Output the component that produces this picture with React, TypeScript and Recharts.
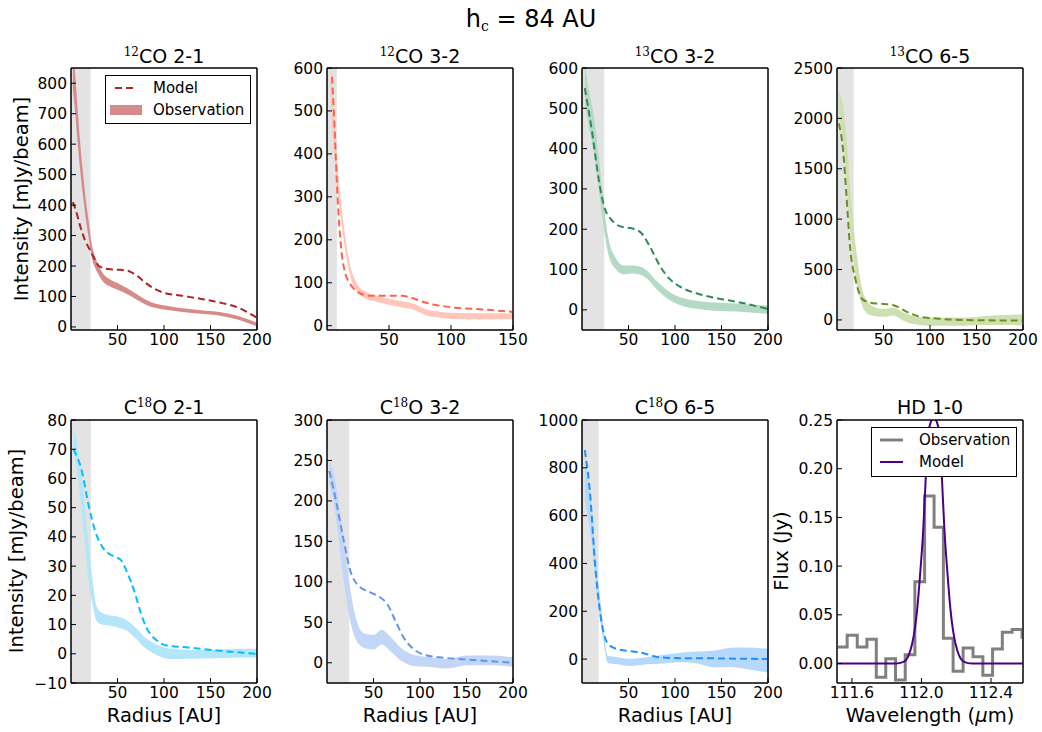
import React from "react";
import { ComposedChart, Area, Line, XAxis, YAxis, ReferenceArea } from "recharts";

// 12CO 2-1
const co12_21_obsR = [2, 4, 7, 10, 13, 16, 19, 22, 26, 30, 35, 40, 50, 60, 70, 80, 90, 100, 120, 140, 160, 180, 200];
const co12_21_obsI = [850, 785, 665, 555, 465, 385, 320, 255, 212, 185, 160, 148, 133, 118, 100, 82, 70, 64, 55, 49, 43, 30, 8];
const co12_21_obsE = [70, 65, 55, 45, 38, 32, 27, 22, 18, 15, 13, 12, 11, 10, 9, 8, 7, 7, 6, 6, 6, 6, 6];
const co12_21_modR = [2, 5, 10, 15, 20, 25, 30, 40, 50, 60, 70, 80, 90, 100, 120, 140, 160, 180, 200];
const co12_21_modI = [410, 385, 330, 285, 255, 225, 200, 190, 188, 185, 170, 145, 125, 112, 102, 92, 80, 63, 30];

// 12CO 3-2
const co12_32_obsR = [3, 5, 8, 11, 15, 19, 24, 32, 40, 51, 60, 68, 75, 81, 90, 98, 114, 130, 150];
const co12_32_obsI = [569, 470, 360, 275, 185, 125, 90, 70, 63, 55, 50, 46, 38, 30, 26, 23, 22, 22, 22];
const co12_32_obsE = [45, 38, 30, 22, 16, 12, 9, 8, 7, 7, 7, 7, 7, 7, 7, 7, 7, 7, 7];
const co12_32_modR = [4, 5.5, 7, 8.5, 10, 12, 15, 18, 21, 27, 33, 40, 51, 60, 68, 76, 84, 95, 103, 125, 150];
const co12_32_modI = [580, 500, 400, 300, 230, 165, 120, 100, 88, 75, 70, 70, 70, 70, 65, 57, 50, 45, 42, 38, 32];

// 13CO 3-2
const co13_32_obsR = [3, 7, 12.5, 18, 23, 28.5, 36, 45, 52, 59, 65, 70, 80, 95, 112, 125, 141, 166, 200];
const co13_32_obsI = [567, 505, 439, 339, 240, 157, 116, 99, 100, 99, 95, 87, 62, 33, 17, 12, 8, 6, 0];
const co13_32_obsE = [45, 45, 45, 40, 30, 20, 14, 11, 10, 10, 10, 10, 10, 10, 10, 10, 10, 10, 10];
const co13_32_modR = [3, 11, 18, 25, 30, 37.5, 45, 52, 60, 64, 73, 84, 95, 105, 123, 145, 173, 200];
const co13_32_modI = [550, 439, 323, 248, 228, 211, 205, 203, 197, 190, 157, 108, 75, 58, 41, 29, 17, 2];

// 13CO 6-5
const co13_65_obsR = [2, 6.5, 10, 15.4, 21, 26, 33, 40, 46, 53, 60, 66, 71, 82, 100, 135, 160, 180, 200];
const co13_65_obsI = [2150, 1950, 1600, 1000, 520, 260, 120, 85, 72, 72, 83, 65, 35, 0, -17, -17, -5, 0, 0];
const co13_65_obsE = [120, 180, 220, 200, 150, 90, 60, 45, 40, 40, 40, 40, 40, 40, 40, 40, 45, 50, 55];
const co13_65_modR = [2, 6.5, 10, 14, 20, 28, 35, 39, 50, 60, 65, 74.5, 89, 103, 135, 200];
const co13_65_modI = [1950, 1690, 1258, 728, 397, 199, 175, 166, 158, 149, 130, 83, 33, 17, 0, -7];

// C18O 2-1
const c18o_21_obsR = [3, 8, 13, 18.6, 24, 27.6, 33, 40, 49, 60, 70.6, 81, 92, 106, 128, 157, 182, 200];
const c18o_21_obsI = [73.5, 64, 50, 32, 19.4, 13.7, 12, 11.5, 11, 9.7, 6.8, 3.4, 1.4, 0, -0.2, 0, 0.2, 0.2];
const c18o_21_obsE = [4, 5, 6, 6, 4, 2.5, 2, 1.8, 1.8, 1.8, 1.8, 1.8, 1.8, 1.8, 1.5, 1.5, 1.5, 1.5];
const c18o_21_modR = [2.5, 11.5, 18.6, 26, 35, 42, 49, 54, 58, 64, 69, 75, 81, 92, 103, 121, 157, 200];
const c18o_21_modI = [70, 62.7, 51.3, 42, 36, 34, 33, 32, 29.6, 25, 20.5, 14, 9, 4.6, 2.8, 2.3, 1.1, 0];

// C18O 3-2
const c18o_32_obsR = [2.5, 9, 16, 23, 30.5, 39.4, 50, 59, 68, 79, 93, 111, 129, 150.5, 179, 200];
const c18o_32_obsI = [237, 204, 143, 85, 44, 27.6, 25.5, 31.7, 23.5, 11, 2.9, 0.8, -1.2, 2.9, 2.9, 0.8];
const c18o_32_obsE = [15, 20, 25, 22, 14, 9, 9, 9, 9, 8, 7, 6, 6, 6, 6, 6];
const c18o_32_modR = [2.5, 9, 18, 25, 34, 46.6, 57, 64.5, 73.5, 82, 93, 107.5, 129, 165, 200];
const c18o_32_modI = [237, 204, 151, 114, 95, 87, 81, 73, 52, 32, 17, 9, 5.8, 2.9, 0];

// C18O 6-5
const c18o_65_obsR = [3, 9, 16, 23, 27.6, 37.6, 52, 70, 88, 106, 124, 141.6, 159.5, 177, 200];
const c18o_65_obsI = [762, 608, 329, 105, 0, -7, -14, -7, 0, 7, 7, 0, 7, 4, -7];
const c18o_65_obsE = [100, 80, 60, 30, 15, 15, 15, 15, 18, 20, 25, 35, 40, 45, 50];
const c18o_65_modR = [3, 9, 14, 19.7, 27, 37.6, 62.7, 84, 106, 141.6, 200];
const c18o_65_modI = [874, 678, 399, 189, 70, 42, 28, 7, 4, 3, 0];

// HD 1-0 spectrum
const hd_obsW = [111.487, 111.543, 111.602, 111.659, 111.713, 111.767, 111.822, 111.879, 111.934, 111.99, 112.046, 112.099, 112.153, 112.211, 112.268, 112.325, 112.381, 112.437, 112.493, 112.55, 112.607];
const hd_obsF = [0.017, 0.017, 0.029, 0.017, 0.025, -0.014, 0.005, -0.017, 0.009, 0.084, 0.172, 0.14, 0.026, -0.008, 0.016, 0.007, -0.012, 0.015, 0.032, 0.035, 0.027];
const hd_modW = [111.514, 111.85, 111.9, 111.946, 111.975, 111.994, 112.01, 112.023, 112.033, 112.052, 112.071, 112.09, 112.109, 112.119, 112.132, 112.148, 112.167, 112.196, 112.242, 112.29, 112.584];
const hd_modF = [0, 0, 0.002, 0.02, 0.055, 0.096, 0.137, 0.185, 0.226, 0.247, 0.252, 0.247, 0.226, 0.185, 0.137, 0.096, 0.055, 0.02, 0.002, 0, 0];

const FONT = "'DejaVu Sans', sans-serif";
const SERIF = "'DejaVu Serif', 'Liberation Serif', serif";
const BOX_W = 186;
const YW = 70;
const MT = 10;
const MR = 30;
const XH = 30;
const MB = 10;

const tickStyle = { fill: "#000", fontSize: 15.5, fontFamily: FONT };

const minus = (v: number) => (v < 0 ? "\u2212" + Math.abs(v) : String(v));

type PanelDef = {
  left: number;
  top: number;
  height: number;
  xDomain: [number, number];
  xTicks: number[];
  yDomain: [number, number];
  yTicks: number[];
  shade?: number;
  obsR: number[];
  obsI: number[];
  obsE?: number[];
  modR: number[];
  modI: number[];
  obsColor: string;
  modColor: string;
  spectrum?: boolean;
  xFmt?: (v: number) => string;
  yFmt?: (v: number) => string;
};

const radTicks = [50, 100, 150, 200];

const panels: PanelDef[] = [
  { left: 71, top: 68, height: 262, xDomain: [0, 200], xTicks: radTicks, yDomain: [-10, 850], yTicks: [0, 100, 200, 300, 400, 500, 600, 700, 800], shade: 21,
    obsR: co12_21_obsR, obsI: co12_21_obsI, obsE: co12_21_obsE, modR: co12_21_modR, modI: co12_21_modI, obsColor: "#d68b8b", modColor: "#b22222" },
  { left: 327, top: 68, height: 262, xDomain: [0, 150], xTicks: [50, 100, 150], yDomain: [-10, 600], yTicks: [0, 100, 200, 300, 400, 500, 600], shade: 8,
    obsR: co12_32_obsR, obsI: co12_32_obsI, obsE: co12_32_obsE, modR: co12_32_modR, modI: co12_32_modI, obsColor: "#ffc6b9", modColor: "#ff6347" },
  { left: 582, top: 68, height: 262, xDomain: [0, 200], xTicks: radTicks, yDomain: [-50, 600], yTicks: [0, 100, 200, 300, 400, 500, 600], shade: 24,
    obsR: co13_32_obsR, obsI: co13_32_obsI, obsE: co13_32_obsE, modR: co13_32_modR, modI: co13_32_modI, obsColor: "#b4d9c4", modColor: "#2e8b57" },
  { left: 837, top: 68, height: 262, xDomain: [0, 200], xTicks: radTicks, yDomain: [-100, 2500], yTicks: [0, 500, 1000, 1500, 2000, 2500], shade: 18,
    obsR: co13_65_obsR, obsI: co13_65_obsI, obsE: co13_65_obsE, modR: co13_65_modR, modI: co13_65_modI, obsColor: "#cfe0b0", modColor: "#6b8e23" },
  { left: 71, top: 420, height: 263, xDomain: [0, 200], xTicks: radTicks, yDomain: [-10, 80], yTicks: [-10, 0, 10, 20, 30, 40, 50, 60, 70, 80], shade: 21.5,
    obsR: c18o_21_obsR, obsI: c18o_21_obsI, obsE: c18o_21_obsE, modR: c18o_21_modR, modI: c18o_21_modI, obsColor: "#b2e6f8", modColor: "#00bfff", yFmt: minus },
  { left: 327, top: 420, height: 263, xDomain: [0, 200], xTicks: radTicks, yDomain: [-25, 300], yTicks: [0, 50, 100, 150, 200, 250, 300], shade: 24,
    obsR: c18o_32_obsR, obsI: c18o_32_obsI, obsE: c18o_32_obsE, modR: c18o_32_modR, modI: c18o_32_modI, obsColor: "#c4d6f6", modColor: "#6495ed" },
  { left: 582, top: 420, height: 263, xDomain: [0, 200], xTicks: radTicks, yDomain: [-100, 1000], yTicks: [0, 200, 400, 600, 800, 1000], shade: 18,
    obsR: c18o_65_obsR, obsI: c18o_65_obsI, obsE: c18o_65_obsE, modR: c18o_65_modR, modI: c18o_65_modI, obsColor: "#b5d9fb", modColor: "#1e90ff" },
  { left: 837, top: 420, height: 263, xDomain: [111.514, 112.584], xTicks: [111.6, 112.0, 112.4], yDomain: [-0.02, 0.25], yTicks: [0, 0.05, 0.1, 0.15, 0.2, 0.25],
    obsR: hd_obsW, obsI: hd_obsF, modR: hd_modW, modI: hd_modF, obsColor: "#808080", modColor: "#4b0082", spectrum: true,
    xFmt: (v) => v.toFixed(1), yFmt: (v) => v.toFixed(2) },
];

function Panel({ p }: { p: PanelDef }) {
  const modData = p.modR.map((r, i) => ({ r, v: p.modI[i] }));
  const obsData = p.spectrum
    ? p.obsR.map((r, i) => ({ r, v: p.obsI[i] }))
    : p.obsR.map((r, i) => ({ r, band: [p.obsI[i] - p.obsE![i], p.obsI[i] + p.obsE![i]] }));
  return (
    <div style={{ position: "absolute", left: p.left - YW, top: p.top - MT - 1 }}>
      <ComposedChart
        width={YW + BOX_W + 1 + MR}
        height={MT + 1 + p.height + XH + MB}
        margin={{ top: MT, right: MR, bottom: MB, left: 0 }}
      >
        <XAxis
          type="number"
          dataKey="r"
          domain={p.xDomain}
          ticks={p.xTicks}
          allowDataOverflow
          interval={0}
          height={XH}
          tickSize={-5}
          tickMargin={9}
          tick={tickStyle}
          tickLine={{ stroke: "#000" }}
          axisLine={{ stroke: "#000" }}
          tickFormatter={p.xFmt}
        />
        <XAxis
          xAxisId="t"
          orientation="top"
          type="number"
          domain={p.xDomain}
          ticks={p.xTicks}
          allowDataOverflow
          interval={0}
          height={1}
          tickSize={-5}
          tick={false}
          tickLine={{ stroke: "#000" }}
          axisLine={{ stroke: "#000" }}
        />
        <YAxis
          type="number"
          domain={p.yDomain}
          ticks={p.yTicks}
          allowDataOverflow
          interval={0}
          width={YW}
          tickSize={-5}
          tickMargin={9}
          tick={tickStyle}
          tickLine={{ stroke: "#000" }}
          axisLine={{ stroke: "#000" }}
          tickFormatter={p.yFmt}
        />
        <YAxis
          yAxisId="r"
          orientation="right"
          type="number"
          domain={p.yDomain}
          ticks={p.yTicks}
          allowDataOverflow
          interval={0}
          width={1}
          tickSize={-5}
          tick={false}
          tickLine={{ stroke: "#000" }}
          axisLine={{ stroke: "#000" }}
        />
        {p.shade !== undefined && (
          <ReferenceArea x1={p.xDomain[0]} x2={p.shade} fill="#e3e3e3" fillOpacity={1} stroke="none" />
        )}
        {p.spectrum ? (
          <Line data={obsData} dataKey="v" type="step" stroke={p.obsColor} strokeWidth={3} dot={false} activeDot={false} isAnimationActive={false} />
        ) : (
          <Area data={obsData} dataKey="band" type="monotone" fill={p.obsColor} fillOpacity={1} stroke="none" dot={false} activeDot={false} isAnimationActive={false} />
        )}
        <Line
          data={modData}
          dataKey="v"
          type="monotone"
          stroke={p.modColor}
          strokeWidth={2}
          strokeDasharray={p.spectrum ? undefined : "7 4"}
          dot={false}
          activeDot={false}
          isAnimationActive={false}
        />
        <ReferenceArea
          x1={p.xDomain[0]}
          x2={p.xDomain[1]}
          y1={p.yDomain[0]}
          y2={p.yDomain[1]}
          fill="none"
          stroke="#000"
          strokeWidth={1}
        />
      </ComposedChart>
    </div>
  );
}

function Title({ x, y, pre, sup, post }: { x: number; y: number; pre: string; sup: string; post: string }) {
  return (
    <text x={x} y={y} textAnchor="middle" fontFamily={FONT} fontSize={19} fill="#000">
      {pre}
      <tspan fontFamily={SERIF} fontSize={12} dy={-7}>{sup}</tspan>
      <tspan dy={7}>{post}</tspan>
    </text>
  );
}

export default function App() {
  return (
    <div style={{ position: "absolute", left: 0, top: 0, width: 1042, height: 732, background: "#fff", overflow: "hidden" }}>
      {panels.map((p, i) => (
        <Panel key={i} p={p} />
      ))}
      <svg width={1042} height={732} style={{ position: "absolute", left: 0, top: 0, pointerEvents: "none" }}>
        <text x={531} y={27} textAnchor="middle" fontFamily={FONT} fontSize={24} fill="#000">
          h<tspan fontFamily={SERIF} fontSize={14} dy={4}>c</tspan>
          <tspan dy={-4}> = 84 AU</tspan>
        </text>

        <Title x={164} y={63} pre="" sup="12" post="CO 2-1" />
        <Title x={420} y={63} pre="" sup="12" post="CO 3-2" />
        <Title x={675} y={63} pre="" sup="13" post="CO 3-2" />
        <Title x={930} y={63} pre="" sup="13" post="CO 6-5" />
        <Title x={164} y={414} pre="C" sup="18" post="O 2-1" />
        <Title x={420} y={414} pre="C" sup="18" post="O 3-2" />
        <Title x={675} y={414} pre="C" sup="18" post="O 6-5" />
        <text x={930} y={414} textAnchor="middle" fontFamily={FONT} fontSize={19} fill="#000">HD 1-0</text>

        <text transform="translate(27.5,199) rotate(-90)" textAnchor="middle" fontFamily={FONT} fontSize={19.5} fill="#000">Intensity [mJy/beam]</text>
        <text transform="translate(23,551) rotate(-90)" textAnchor="middle" fontFamily={FONT} fontSize={19.5} fill="#000">Intensity [mJy/beam]</text>
        <text transform="translate(788,551) rotate(-90)" textAnchor="middle" fontFamily={FONT} fontSize={19.5} fill="#000">Flux (Jy)</text>
        <text x={164} y={722} textAnchor="middle" fontFamily={FONT} fontSize={19.5} fill="#000">Radius [AU]</text>
        <text x={420} y={722} textAnchor="middle" fontFamily={FONT} fontSize={19.5} fill="#000">Radius [AU]</text>
        <text x={675} y={722} textAnchor="middle" fontFamily={FONT} fontSize={19.5} fill="#000">Radius [AU]</text>
        <text x={930} y={722} textAnchor="middle" fontFamily={FONT} fontSize={19.5} fill="#000">
          Wavelength (<tspan fontStyle="italic">{"\u03bc"}</tspan>m)
        </text>

        <g>
          <rect x={105.5} y={75.5} width={145} height={48} fill="#fff" stroke="#000" strokeWidth={1} />
          <line x1={115} y1={88} x2={137} y2={88} stroke="#b22222" strokeWidth={2} strokeDasharray="7 4" />
          <rect x={110} y={105} width={32} height={10} fill="#d68b8b" />
          <text x={153} y={93} fontFamily={FONT} fontSize={15} fill="#000">Model</text>
          <text x={153} y={115} fontFamily={FONT} fontSize={15} fill="#000">Observation</text>
        </g>
        <g>
          <rect x={871.5} y={427.5} width={145} height={49} fill="#fff" stroke="#000" strokeWidth={1} />
          <line x1={880} y1={440} x2={903} y2={440} stroke="#808080" strokeWidth={3} />
          <line x1={880} y1={462} x2={903} y2={462} stroke="#4b0082" strokeWidth={2} />
          <text x={919} y={445} fontFamily={FONT} fontSize={15} fill="#000">Observation</text>
          <text x={919} y={467} fontFamily={FONT} fontSize={15} fill="#000">Model</text>
        </g>
      </svg>
    </div>
  );
}
